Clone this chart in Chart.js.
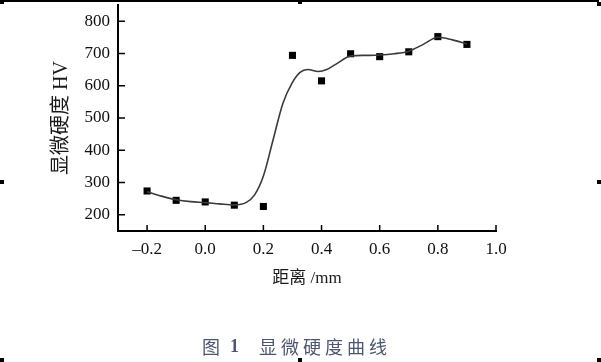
<!DOCTYPE html>
<html>
<head>
<meta charset="utf-8">
<script src="https://cdn.jsdelivr.net/npm/chart.js@4/dist/chart.umd.min.js"></script>
<style>
  body { margin: 0; background: #fff; }
  #wrap { position: relative; width: 601px; height: 362px; overflow: hidden; }
  #wrap canvas { position: absolute; left: 0; top: 0; }
  .topline { position: absolute; left: 0; top: 0; width: 599px; height: 2px; background: #000; }
  .h { position: absolute; width: 4px; height: 4px; background: #000; }
  .cap { position: absolute; top: 337px; font-size: 18px; line-height: 18px; color: #4d5570; white-space: pre; }
</style>
</head>
<body>
<div id="wrap">
  <canvas id="hvChart" width="601" height="362"></canvas>
  <div class="topline"></div>
  <div class="h" style="left:0;top:0"></div>
  <div class="h" style="left:298px;top:0"></div>
  <div class="h" style="left:597px;top:2px"></div>
  <div class="h" style="left:0;top:180px"></div>
  <div class="h" style="left:597px;top:180px"></div>
  <div class="h" style="left:0;top:358px"></div>
  <div class="h" style="left:298px;top:358px"></div>
  <div class="h" style="left:597px;top:358px"></div>
  <div class="cap" style="left:202px;font-family:'Noto Sans CJK SC'">图</div>
  <div class="cap" style="left:230px;font-family:'Liberation Serif';font-weight:bold">1</div>
  <div class="cap" style="left:259px;font-family:'Noto Sans CJK SC';letter-spacing:4px">显微硬度曲线</div>
</div>
<script>
// measured points (distance mm, hardness HV)
const markX = [-0.2, -0.1, 0.0, 0.1, 0.2, 0.3, 0.4, 0.5, 0.6, 0.7, 0.8, 0.9];
const markY = [274, 245, 240, 230, 226, 694, 615, 699, 690, 705, 752, 728];

// fitted curve
const curveX = [-0.2, -0.15, -0.1, -0.05, 0.0, 0.05, 0.1, 0.14, 0.17, 0.2, 0.233, 0.267, 0.298, 0.326, 0.353, 0.388, 0.418, 0.45, 0.5, 0.55, 0.6, 0.65, 0.7, 0.75, 0.8, 0.85, 0.9];
const curveY = [272, 258, 247, 241, 238, 234, 231, 238, 262, 320, 431, 545, 607, 641, 650, 644, 650, 667, 692, 694, 695, 699, 707, 728, 750, 742, 729];

const xTicks = [-0.2, 0.0, 0.2, 0.4, 0.6, 0.8, 1.0];
const yTicks = [200, 300, 400, 500, 600, 700, 800];

const serif = "'Liberation Serif', 'Noto Sans CJK SC'";

// ticks pointing into the plot
const innerTicks = {
    id: 'innerTicks',
    afterDatasetsDraw(chart) {
        const { ctx, chartArea, scales: { x, y } } = chart;
        ctx.save();
        ctx.strokeStyle = '#000';
        ctx.lineWidth = 1.5;
        ctx.beginPath();
        xTicks.forEach(v => {
            const px = x.getPixelForValue(v);
            ctx.moveTo(px, chartArea.bottom);
            ctx.lineTo(px, chartArea.bottom - 6);
        });
        yTicks.forEach(v => {
            const py = y.getPixelForValue(v);
            ctx.moveTo(chartArea.left, py);
            ctx.lineTo(chartArea.left + 7, py);
        });
        ctx.stroke();
        ctx.restore();
    }
};

const ctx = document.getElementById("hvChart").getContext("2d");

new Chart(ctx, {
    type: 'scatter',
    data: {
        datasets: [
            {
                label: 'fit',
                data: curveX.map((v, i) => ({ x: v, y: curveY[i] })),
                showLine: true,
                borderColor: '#3a3a3a',
                borderWidth: 1.6,
                pointRadius: 0,
                cubicInterpolationMode: 'monotone'
            },
            {
                label: 'HV',
                data: markX.map((v, i) => ({ x: v, y: markY[i] })),
                showLine: false,
                pointStyle: 'rect',
                pointRadius: 5,
                backgroundColor: '#000',
                borderColor: '#000',
                borderWidth: 0
            }
        ]
    },
    options: {
        responsive: false,
        animation: false,
        layout: { padding: { left: 0, right: 105, top: 4, bottom: 25 } },
        plugins: {
            legend: { display: false },
            tooltip: { enabled: false }
        },
        scales: {
            x: {
                type: 'linear',
                min: -0.3,
                max: 1.0,
                afterBuildTicks: s => { s.ticks = xTicks.map(v => ({ value: v })); },
                afterFit: s => { s.height = 106; s.paddingLeft = 0; s.paddingRight = 0; },
                grid: { display: false, drawTicks: false },
                border: { color: '#000', width: 2 },
                ticks: {
                    padding: 8,
                    color: '#111',
                    font: { family: serif, size: 17 },
                    callback: v => v.toFixed(1).replace('-', '\u2013')
                },
                title: {
                    display: true,
                    text: '距离 /mm',
                    color: '#1a1a1a',
                    font: { family: serif, size: 17 },
                    padding: { top: 0, bottom: 48 }
                }
            },
            y: {
                min: 150,
                max: 850,
                afterBuildTicks: s => { s.ticks = yTicks.map(v => ({ value: v })); },
                afterFit: s => { s.width = 118; s.paddingTop = 0; s.paddingBottom = 0; },
                grid: { display: false, drawTicks: false },
                border: { color: '#000', width: 2 },
                ticks: {
                    padding: 8,
                    color: '#111',
                    font: { family: serif, size: 17 }
                },
                title: {
                    display: true,
                    text: '显微硬度 HV',
                    color: '#1a1a1a',
                    font: { family: serif, size: 20 },
                    padding: { top: 50, bottom: 0 }
                }
            }
        }
    },
    plugins: [innerTicks]
});
</script>
</body>
</html>
